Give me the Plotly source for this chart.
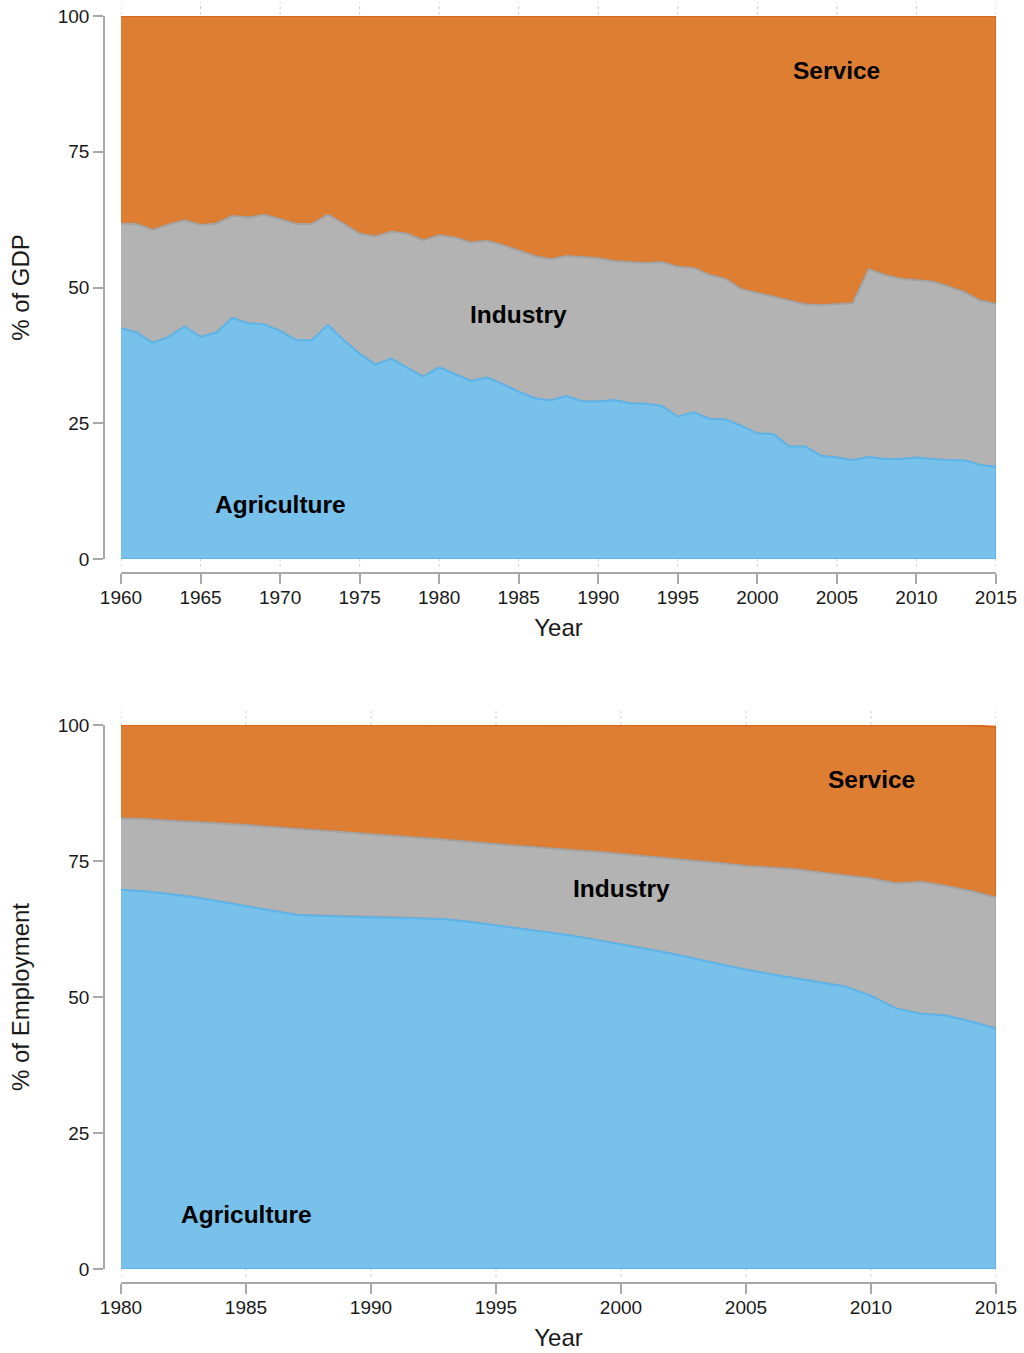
import plotly.graph_objects as go

# ---- Sector shares of GDP (%), 1960-2015 ----
years_gdp = list(range(1960, 2016))
agri_gdp = [42.5, 41.7, 39.8, 40.9, 42.8, 40.9, 41.7, 44.4, 43.4, 43.2,
            42.0, 40.3, 40.3, 43.1, 40.3, 37.8, 35.8, 36.9, 35.2, 33.6,
            35.3, 34.1, 32.8, 33.4, 32.2, 30.8, 29.6, 29.2, 30.0, 29.0,
            29.0, 29.3, 28.7, 28.6, 28.2, 26.2, 27.0, 25.8, 25.7, 24.5,
            23.1, 23.0, 20.7, 20.7, 19.0, 18.7, 18.2, 18.8, 18.4, 18.4,
            18.7, 18.4, 18.2, 18.2, 17.3, 17.0]
ind_gdp = [19.3, 20.0, 20.8, 20.7, 19.6, 20.6, 20.1, 18.8, 19.5, 20.2,
           20.6, 21.4, 21.4, 20.3, 21.4, 22.1, 23.6, 23.4, 24.7, 25.1,
           24.3, 25.1, 25.5, 25.2, 25.6, 26.0, 26.2, 26.0, 25.8, 26.6,
           26.4, 25.6, 26.0, 25.9, 26.5, 27.6, 26.6, 26.5, 25.9, 25.2,
           25.9, 25.3, 27.0, 26.2, 27.8, 28.3, 28.9, 34.6, 33.9, 33.2,
           32.7, 32.7, 32.0, 31.0, 30.3, 30.0]
serv_gdp = [38.2, 38.3, 39.4, 38.4, 37.6, 38.5, 38.2, 36.8, 37.1, 36.6,
            37.4, 38.3, 38.3, 36.6, 38.3, 40.1, 40.6, 39.7, 40.1, 41.3,
            40.4, 40.8, 41.7, 41.4, 42.2, 43.2, 44.2, 44.8, 44.2, 44.4,
            44.6, 45.1, 45.3, 45.5, 45.3, 46.2, 46.4, 47.7, 48.4, 50.3,
            51.0, 51.7, 52.3, 53.1, 53.2, 53.0, 52.9, 46.6, 47.7, 48.4,
            48.6, 48.9, 49.8, 50.8, 52.4, 53.0]

# ---- Sector shares of employment (%), 1980-2015 ----
years_emp = list(range(1980, 2016))
agri_emp = [69.7, 69.4, 68.9, 68.3, 67.5, 66.7, 65.9, 65.1, 64.9, 64.8,
            64.7, 64.6, 64.5, 64.3, 63.8, 63.2, 62.6, 61.9, 61.3, 60.5,
            59.7, 58.9, 58.0, 57.0, 56.0, 55.0, 54.2, 53.4, 52.7, 51.9,
            50.2, 47.9, 46.9, 46.6, 45.5, 44.2]
ind_emp = [13.1, 13.3, 13.5, 13.9, 14.4, 14.9, 15.4, 15.9, 15.8, 15.5,
           15.2, 15.0, 14.7, 14.6, 14.7, 14.9, 15.2, 15.5, 15.7, 16.2,
           16.6, 16.9, 17.4, 18.0, 18.6, 19.1, 19.6, 20.1, 20.2, 20.5,
           21.6, 23.0, 24.3, 23.8, 24.0, 24.1]
serv_emp = [17.2, 17.3, 17.6, 17.8, 18.1, 18.4, 18.7, 19.0, 19.3, 19.7,
            20.1, 20.4, 20.8, 21.1, 21.5, 21.9, 22.2, 22.6, 23.0, 23.3,
            23.7, 24.2, 24.6, 25.0, 25.4, 25.9, 26.2, 26.5, 27.1, 27.6,
            28.2, 29.1, 28.8, 29.6, 30.4, 31.4]

gdp_year_ticks = [1960, 1965, 1970, 1975, 1980, 1985, 1990, 1995,
                  2000, 2005, 2010, 2015]
emp_year_ticks = [1980, 1985, 1990, 1995, 2000, 2005, 2010, 2015]
share_ticks = [0, 25, 50, 75, 100]

# fill colour, outline colour
COLORS = {
    "Agriculture": ("#77c1eb", "#5cb4ea"),
    "Industry": ("#b3b3b3", "#a3a3a3"),
    "Service": ("#dd7e33", "#d8681c"),
}
AXIS_COLOR = "#a8a8a8"
TEXT_COLOR = "#1a1a1a"
FONT = "Arial, Liberation Sans, Helvetica, sans-serif"
TICK_SIZE = 19
TITLE_SIZE = 24
LABEL_SIZE = 24.5


def stacked_bands(years, parts, xa, ya):
    """Closed polygons for each stacked sector; the top band is drawn first
    so that each lower band's outline sits on the shared boundary."""
    lower = [0.0] * len(years)
    bands = []
    for name, vals in parts:
        upper = [lo + v for lo, v in zip(lower, vals)]
        bands.append((name, lower, upper))
        lower = upper
    traces = []
    for name, lo, up in reversed(bands):
        fill, line = COLORS[name]
        traces.append(go.Scatter(
            x=years + years[::-1],
            y=up + lo[::-1],
            mode="lines",
            fill="toself",
            fillcolor=fill,
            line=dict(color=line, width=2),
            name=name,
            xaxis=xa, yaxis=ya,
            hoverinfo="skip",
            showlegend=False,
        ))
    return traces


fig = go.Figure()
for t in stacked_bands(years_gdp, [("Agriculture", agri_gdp),
                                   ("Industry", ind_gdp),
                                   ("Service", serv_gdp)], "x", "y"):
    fig.add_trace(t)
for t in stacked_bands(years_emp, [("Agriculture", agri_emp),
                                   ("Industry", ind_emp),
                                   ("Service", serv_emp)], "x2", "y2"):
    fig.add_trace(t)

W, H = 1024, 1353


def px_x(p):
    return p / W


def px_y(p):
    return 1 - p / H


x_dom = [px_x(121), px_x(996)]
top_dom = [px_y(559), px_y(16)]
bot_dom = [px_y(1269), px_y(725)]

common_x = dict(
    showline=True, linecolor=AXIS_COLOR, linewidth=1.5,
    ticks="outside", ticklen=10, tickcolor=AXIS_COLOR, tickwidth=1.5,
    ticklabelstandoff=-3,
    showgrid=False, zeroline=False, automargin=False,
    tickfont=dict(family=FONT, size=TICK_SIZE, color=TEXT_COLOR),
    anchor="free",
)
common_y = dict(
    showline=True, linecolor=AXIS_COLOR, linewidth=1.5,
    ticks="outside", ticklen=10, tickcolor=AXIS_COLOR, tickwidth=1.5,
    showgrid=False, zeroline=False, automargin=False,
    tickfont=dict(family=FONT, size=TICK_SIZE, color=TEXT_COLOR),
    anchor="free", position=px_x(104),
    range=[0, 100], tickvals=share_ticks,
)

fig.update_layout(
    width=W, height=H,
    margin=dict(l=0, r=0, t=0, b=0, pad=0, autoexpand=False),
    paper_bgcolor="white", plot_bgcolor="white",
    font=dict(family=FONT, color=TEXT_COLOR),
    xaxis=dict(common_x, domain=x_dom, range=[1960, 2015],
               tickvals=gdp_year_ticks, position=px_y(573),
               title=dict(text="Year", standoff=12,
                          font=dict(family=FONT, size=TITLE_SIZE,
                                    color=TEXT_COLOR))),
    yaxis=dict(common_y, domain=top_dom,
               title=dict(text="% of GDP", standoff=20,
                          font=dict(family=FONT, size=TITLE_SIZE,
                                    color=TEXT_COLOR))),
    xaxis2=dict(common_x, domain=x_dom, range=[1980, 2015],
                tickvals=emp_year_ticks, position=px_y(1283),
                title=dict(text="Year", standoff=12,
                           font=dict(family=FONT, size=TITLE_SIZE,
                                     color=TEXT_COLOR))),
    yaxis2=dict(common_y, domain=bot_dom,
                title=dict(text="% of Employment", standoff=20,
                           font=dict(family=FONT, size=TITLE_SIZE,
                                     color=TEXT_COLOR))),
)

# faint dotted year grid peeking out above and below each stacked area
shapes = []
for yr in gdp_year_ticks:
    shapes.append(dict(type="line", xref="x", yref="paper", x0=yr, x1=yr,
                       y0=px_y(567), y1=px_y(2), layer="below",
                       line=dict(color="#cfcfcf", width=1, dash="dot")))
for yr in emp_year_ticks:
    shapes.append(dict(type="line", xref="x2", yref="paper", x0=yr, x1=yr,
                       y0=px_y(1277), y1=px_y(711), layer="below",
                       line=dict(color="#cfcfcf", width=1, dash="dot")))
fig.update_layout(shapes=shapes)

# sector labels inside each band
labels = [
    ("x", "y", 2005, 90, "Service"),
    ("x", "y", 1985, 45, "Industry"),
    ("x", "y", 1970, 10, "Agriculture"),
    ("x2", "y2", 2010, 90, "Service"),
    ("x2", "y2", 2000, 70, "Industry"),
    ("x2", "y2", 1985, 10, "Agriculture"),
]
for xr, yr, xv, yv, txt in labels:
    fig.add_annotation(x=xv, y=yv, xref=xr, yref=yr, text="<b>%s</b>" % txt,
                       showarrow=False,
                       font=dict(family=FONT, size=LABEL_SIZE,
                                 color="#000000"))

fig.write_html("out.html")
